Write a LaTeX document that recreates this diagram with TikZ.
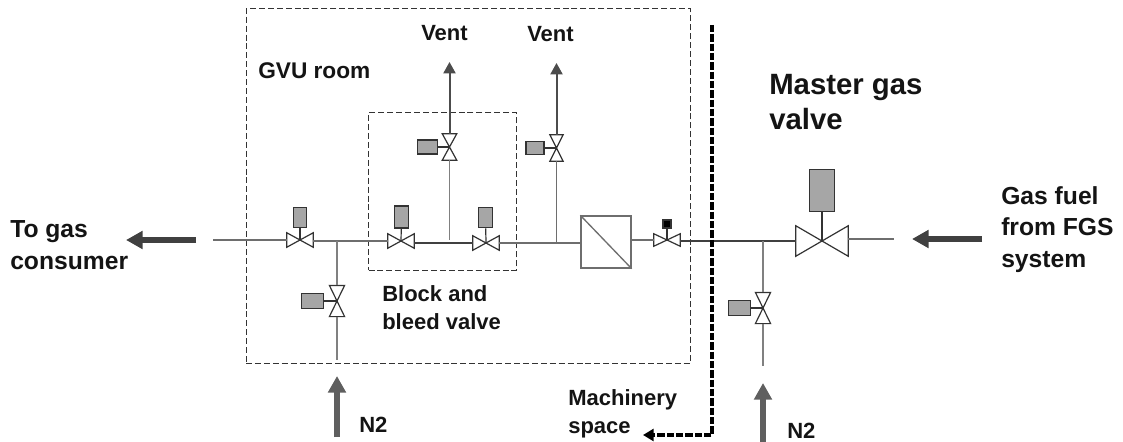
\documentclass[tikz,border=0pt]{standalone}
\usepackage{fontspec}
\setmainfont{Liberation Sans}
\usetikzlibrary{arrows.meta}

\definecolor{pipegray}{HTML}{6E6E6E}
\definecolor{boxgray}{HTML}{A6A6A6}
\definecolor{flowgray}{HTML}{5F5F5F}

\tikzset{
  pipe/.style={draw=pipegray, line width=1pt},
  stem/.style={draw=black!80, line width=.9pt},
  roomline/.style={draw=black!80, line width=.7pt, dash pattern=on 4.5pt off 2.2pt},
  ventline/.style={draw=black!70, line width=1.5pt, -{Triangle[length=8.5pt,width=9pt]}},
  flowup/.style={draw=flowgray, line width=5pt, -{Triangle[length=12.5pt,width=13pt]}},
  flowleft/.style={draw=black!75, line width=5pt, -{Triangle[length=12.5pt,width=13pt]}},
  actbox/.style={draw=black!80, fill=boxgray, line width=.9pt, inner sep=0pt},
  hvalve/.style={inner sep=0pt, minimum width=19.5pt, minimum height=10.5pt,
    append after command={\pgfextra{\draw[black!80, line width=.9pt, line join=miter]
      (\tikzlastnode.north west) -- (\tikzlastnode.south east) -- (\tikzlastnode.north east) -- (\tikzlastnode.south west) -- cycle;}}},
  vvalve/.style={inner sep=0pt, minimum width=10.5pt, minimum height=19.5pt,
    append after command={\pgfextra{\draw[black!80, line width=.9pt, line join=miter]
      (\tikzlastnode.north west) -- (\tikzlastnode.north east) -- (\tikzlastnode.south west) -- (\tikzlastnode.south east) -- cycle;}}},
  lbl/.style={anchor=west, align=left, inner sep=0pt, text=black!92, font=\fontsize{16.5}{21}\selectfont\bfseries},
  lblbig/.style={lbl, font=\fontsize{18.5}{23.5}\selectfont\bfseries}
}

\begin{document}
\begin{tikzpicture}[x=.75pt,y=-.75pt]
\useasboundingbox (0,0) rectangle (1123,442);

% rooms
\node [roomline, draw, inner sep=0pt, minimum width=333pt, minimum height=266pt] (gvuroom) at (468,186) {};
\node [roomline, draw, inner sep=0pt, minimum width=111pt, minimum height=118pt] (bleedroom) at (442.5,191.5) {};

% main line valves
\node [hvalve] (vone) at (300,240) {};
\node [hvalve] (vtwo) at (401,241) {};
\node [hvalve] (vthree) at (486,243) {};
\node [hvalve, minimum height=9pt] (vfour) at (667,240) {};
\node [hvalve, minimum width=39pt, minimum height=22.5pt] (vmaster) at (822,241) {};

% vertical valves
\node [vvalve] (vbleed) at (449.5,147) {};
\node [vvalve, minimum width=9.5pt] (vventtwo) at (556.5,148) {};
\node [vvalve, minimum width=11pt, minimum height=23pt] (vnleft) at (337,301) {};
\node [vvalve, minimum width=11pt, minimum height=23pt] (vnright) at (763,308) {};

% actuators
\node [actbox, minimum width=10pt, minimum height=15.5pt] (aone) at (300,217.5) {};
\node [actbox, minimum width=10pt, minimum height=16.5pt] (atwo) at (401.5,217) {};
\node [actbox, minimum width=10pt, minimum height=15.5pt] (athree) at (485.5,217.5) {};
\node [actbox, fill=black, minimum width=6pt, minimum height=6pt] (afour) at (667,224) {};
\node [actbox, minimum width=19pt, minimum height=32pt] (amaster) at (822,190.5) {};
\node [actbox, minimum width=15.5pt, minimum height=10.5pt] (ableed) at (427.5,147) {};
\node [actbox, minimum width=13.5pt, minimum height=10pt] (aventtwo) at (535,148) {};
\node [actbox, minimum width=17pt, minimum height=11pt] (anleft) at (312.5,301) {};
\node [actbox, minimum width=16pt, minimum height=11.5pt] (anright) at (739.5,308) {};

\draw [stem] (vone.center) -- (aone);
\draw [stem] (vtwo.center) -- (atwo);
\draw [stem] (vthree.center) -- (athree);
\draw [stem] (vfour.center) -- (afour);
\draw [stem] (vmaster.center) -- (amaster);
\draw [stem] (vbleed.center) -- (ableed);
\draw [stem] (vventtwo.center) -- (aventtwo);
\draw [stem] (vnleft.center) -- (anleft);
\draw [stem] (vnright.center) -- (anright);

% filter
\node [draw=pipegray, line width=1pt, inner sep=0pt, minimum width=37.5pt, minimum height=39pt] (filter) at (606,242) {};
\draw [pipe] (filter.north west) -- (filter.south east);

% main pipe
\coordinate (pipeleft) at (213,240);
\coordinate (piperight) at (894,239);
\coordinate (teeleft) at (337,241);
\coordinate (teevent) at (556.5,242);
\coordinate (teeright) at (763,241);
\coordinate (bleedend) at (449.5,240);
\coordinate (nleftend) at (337,360);
\coordinate (nrightend) at (763,366);
\draw [pipe] (pipeleft) -- (vone.west);
\draw [pipe] (vtwo.west -| vone.east) -- (vtwo.west);
\draw [pipe, draw=black!75, line width=.8pt] (vthree.west -| vtwo.east) -- (vthree.west);
\draw [pipe] (vthree.east) -- (vthree.east -| filter.west);
\draw [pipe] (filter.east |- vfour) -- (vfour.west);
\draw [pipe, draw=black!75, line width=.8pt] (vmaster.west -| vfour.east) -- (vmaster.west);
\draw [pipe] (vmaster.east |- piperight) -- (piperight);

% branches
\draw [pipe, draw=gray] (teeleft) -- (vnleft.north);
\draw [pipe, draw=gray] (vnleft.south) -- (nleftend);
\draw [pipe, draw=gray] (vbleed.south) -- (bleedend);
\draw [pipe] (vventtwo.south) -- (teevent);
\draw [pipe, draw=gray] (teeright) -- (vnright.north);
\draw [pipe, draw=gray] (vnright.south) -- (nrightend);

% vents
\coordinate (venttipone) at (449.5,62);
\coordinate (venttiptwo) at (556.5,63);
\draw [ventline] (vbleed.north) -- (venttipone);
\draw [ventline] (vventtwo.north) -- (venttiptwo);

% flow arrows
\coordinate (consumerstart) at (196,240);
\coordinate (consumertip) at (126,240);
\coordinate (fuelstart) at (982,239);
\coordinate (fueltip) at (912,239);
\coordinate (nleftstart) at (337,437);
\coordinate (nlefttip) at (337,376);
\coordinate (nrightstart) at (763,442);
\coordinate (nrighttip) at (763,383);
\draw [flowleft] (consumerstart) -- (consumertip);
\draw [flowleft] (fuelstart) -- (fueltip);
\draw [flowup] (nleftstart) -- (nlefttip);
\draw [flowup] (nrightstart) -- (nrighttip);

% bulkhead
\coordinate (walltop) at (712,25);
\coordinate (wallcorner) at (712,435);
\coordinate (walltip) at (643,435);
\draw [draw=black, line width=2.6pt, dash pattern=on 5.5pt off 1.5pt, -{Triangle[length=8pt,width=9pt]}] (walltop) -- (wallcorner) -- (walltip);

% labels
\node [lblbig] (lconsumer) at (10,245) {To gas\\consumer};
\node [lblbig] (lfuel) at (1001,229.5) {Gas fuel\\from FGS\\system};
\node [lbl, font=\fontsize{22}{26}\selectfont\bfseries] (lmaster) at (769,102) {Master gas\\valve};
\node [lbl, font=\fontsize{17}{21}\selectfont\bfseries] (lgvu) at (258,71) {GVU room};
\node [lbl] (lventone) at (421,33) {Vent};
\node [lbl] (lventtwo) at (527,34) {Vent};
\node [lbl] (lblock) at (382,308) {Block and\\bleed valve};
\node [lbl] (lmach) at (568,414) {Machinery\\space};
\node [lbl] (lnleft) at (359,425) {N2};
\node [lbl] (lnright) at (787,431) {N2};
\end{tikzpicture}
\end{document}
